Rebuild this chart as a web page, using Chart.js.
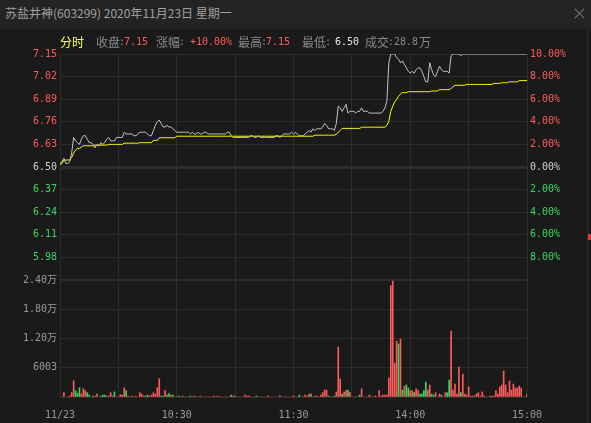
<!DOCTYPE html>
<html lang="zh-CN">
<head>
<meta charset="UTF-8">
<title>苏盐井神 分时</title>
<script src="https://cdn.jsdelivr.net/npm/chart.js@4/dist/chart.umd.min.js"></script>
<style>
  body { margin: 0; background: #1a1a1a; width: 591px; height: 423px; overflow: hidden; position: relative; }
  #titlebar { position: absolute; left: 0; top: 0; width: 591px; height: 29px; background: #232323;
    color: #a0a0a0; font: 12px "Noto Sans CJK SC", sans-serif; line-height: 26px; }
  #titlebar span { position: absolute; left: 5px; top: 0; }
  .close { position: absolute; left: 574px; top: 8px; width: 11px; height: 11px; }
  .close:before, .close:after { content: ""; position: absolute; left: 5px; top: -1px; width: 1px; height: 13px; background: #7a7a7a; }
  .close:before { transform: rotate(45deg); }
  .close:after { transform: rotate(-45deg); }
  .hd { position: absolute; top: 34px; height: 16px; line-height: 16px; white-space: nowrap; z-index: 2; }
  .cj { font-family: "Noto Sans CJK SC", sans-serif; font-size: 12px; color: #8a8a8a; }
  .mn { font-family: "DejaVu Sans Mono", monospace; font-size: 10px; color: #8a8a8a; }
  .red { color: #ff5a5a; }
  .wht { color: #e6e6e6; }
  .yel { color: #ffff66; }
  canvas { position: absolute; left: 0; }
  #price { top: 44px; }
  #vol { top: 270px; }
  .edge { position: absolute; left: 587px; top: 29px; width: 1px; height: 394px; background: #2c2c2c; }
  .mark { position: absolute; left: 588px; top: 234px; width: 3px; height: 6px; background: #e03535; }
</style>
</head>
<body>
<div id="titlebar"><span>苏盐井神(603299) 2020年11月23日 星期一</span><div class="close"></div></div>
<div class="hd cj yel" style="left:60px">分时</div>
<div class="hd cj" style="left:96px">收盘</div><div class="hd mn" style="left:119px">:</div><div class="hd mn red" style="left:124px">7.15</div>
<div class="hd cj" style="left:156px">涨幅</div><div class="hd mn" style="left:179px">:</div><div class="hd mn red" style="left:190px">+10.00%</div>
<div class="hd cj" style="left:238px">最高</div><div class="hd mn" style="left:261px">:</div><div class="hd mn red" style="left:266px">7.15</div>
<div class="hd cj" style="left:302px">最低</div><div class="hd mn" style="left:325px">:</div><div class="hd mn wht" style="left:335px">6.50</div>
<div class="hd cj" style="left:365px">成交</div><div class="hd mn" style="left:388px">:28.8</div><div class="hd cj" style="left:419px">万</div>
<div class="edge"></div>
<div class="mark"></div>
<canvas id="price" width="591" height="246"></canvas>
<canvas id="vol" width="591" height="153"></canvas>
<script>
// minute index 0..240 (9:30-11:30, 13:00-15:00)
const minutes = Array.from({ length: 241 }, (_, i) => i);

const price = [
  6.52, 6.53, 6.55, 6.52, 6.52, 6.53, 6.58, 6.67, 6.65, 6.64,
  6.63, 6.66, 6.68, 6.68, 6.66, 6.64, 6.64, 6.63, 6.61, 6.63,
  6.62, 6.64, 6.63, 6.64, 6.66, 6.67, 6.65, 6.65, 6.65, 6.67,
  6.67, 6.67, 6.67, 6.70, 6.69, 6.69, 6.69, 6.69, 6.68, 6.68,
  6.69, 6.70, 6.70, 6.70, 6.70, 6.69, 6.68, 6.68, 6.71, 6.74,
  6.76, 6.77, 6.75, 6.73, 6.73, 6.74, 6.73, 6.73, 6.72, 6.71,
  6.70, 6.70, 6.70, 6.70, 6.70, 6.70, 6.70, 6.69, 6.70, 6.69,
  6.69, 6.70, 6.69, 6.69, 6.70, 6.70, 6.69, 6.69, 6.69, 6.69,
  6.69, 6.69, 6.69, 6.69, 6.69, 6.69, 6.70, 6.70, 6.68, 6.67,
  6.67, 6.67, 6.67, 6.67, 6.67, 6.67, 6.67, 6.67, 6.68, 6.68,
  6.67, 6.67, 6.68, 6.67, 6.67, 6.67, 6.67, 6.67, 6.67, 6.67,
  6.67, 6.68, 6.68, 6.67, 6.68, 6.69, 6.69, 6.69, 6.69, 6.70,
  6.69, 6.70, 6.69, 6.68, 6.68, 6.68, 6.69, 6.70, 6.71, 6.70,
  6.72, 6.71, 6.72, 6.72, 6.72, 6.73, 6.75, 6.74, 6.72, 6.72,
  6.72, 6.71, 6.75, 6.85, 6.84, 6.82, 6.84, 6.86, 6.81, 6.82,
  6.82, 6.82, 6.81, 6.82, 6.82, 6.84, 6.82, 6.82, 6.82, 6.81,
  6.81, 6.81, 6.81, 6.81, 6.81, 6.81, 6.82, 6.84, 6.88, 7.10,
  7.15, 7.15, 7.15, 7.13, 7.12, 7.10, 7.11, 7.09, 7.07, 7.05,
  7.04, 7.05, 7.04, 7.06, 7.07, 7.07, 7.05, 7.02, 6.99, 6.99,
  7.10, 7.06, 7.03, 7.02, 7.05, 7.08, 7.06, 7.05, 7.05, 7.05,
  7.04, 7.14, 7.15, 7.15, 7.15, 7.15, 7.14, 7.15, 7.15, 7.15,
  7.15, 7.15, 7.15, 7.15, 7.15, 7.15, 7.15, 7.15, 7.15, 7.15,
  7.15, 7.15, 7.15, 7.15, 7.15, 7.15, 7.15, 7.15, 7.15, 7.15,
  7.15, 7.15, 7.15, 7.15, 7.15, 7.15, 7.15, 7.15, 7.15, 7.15,
  7.15
];

const avgPrice = [
  6.515, 6.52, 6.54, 6.54, 6.54, 6.54, 6.555, 6.58, 6.597, 6.607,
  6.607, 6.615, 6.622, 6.622, 6.622, 6.622, 6.622, 6.622, 6.626, 6.626,
  6.626, 6.626, 6.626, 6.626, 6.626, 6.63, 6.63, 6.63, 6.63, 6.63,
  6.63, 6.63, 6.63, 6.637, 6.637, 6.637, 6.637, 6.637, 6.637, 6.637,
  6.637, 6.64, 6.64, 6.64, 6.64, 6.64, 6.64, 6.64, 6.653, 6.653,
  6.653, 6.668, 6.668, 6.668, 6.668, 6.668, 6.668, 6.668, 6.668, 6.668,
  6.677, 6.677, 6.677, 6.677, 6.677, 6.677, 6.677, 6.677, 6.677, 6.677,
  6.677, 6.677, 6.677, 6.677, 6.677, 6.677, 6.677, 6.677, 6.677, 6.677,
  6.677, 6.677, 6.677, 6.677, 6.677, 6.677, 6.677, 6.677, 6.677, 6.677,
  6.677, 6.677, 6.677, 6.677, 6.677, 6.677, 6.677, 6.677, 6.677, 6.677,
  6.677, 6.677, 6.677, 6.677, 6.677, 6.677, 6.677, 6.677, 6.677, 6.677,
  6.677, 6.677, 6.677, 6.677, 6.677, 6.677, 6.677, 6.677, 6.677, 6.677,
  6.677, 6.677, 6.677, 6.677, 6.677, 6.677, 6.677, 6.677, 6.677, 6.677,
  6.677, 6.683, 6.683, 6.683, 6.683, 6.683, 6.683, 6.683, 6.683, 6.683,
  6.683, 6.683, 6.687, 6.70, 6.71, 6.722, 6.722, 6.722, 6.722, 6.722,
  6.722, 6.722, 6.722, 6.722, 6.722, 6.729, 6.729, 6.729, 6.729, 6.729,
  6.729, 6.729, 6.729, 6.729, 6.729, 6.729, 6.729, 6.729, 6.74, 6.763,
  6.82, 6.85, 6.874, 6.888, 6.907, 6.92, 6.928, 6.928, 6.928, 6.933,
  6.933, 6.933, 6.933, 6.933, 6.933, 6.933, 6.933, 6.933, 6.933, 6.933,
  6.933, 6.937, 6.937, 6.937, 6.937, 6.945, 6.945, 6.945, 6.945, 6.945,
  6.945, 6.952, 6.962, 6.97, 6.97, 6.97, 6.97, 6.97, 6.97, 6.975,
  6.975, 6.975, 6.975, 6.975, 6.975, 6.975, 6.975, 6.975, 6.975, 6.975,
  6.975, 6.975, 6.975, 6.981, 6.981, 6.981, 6.981, 6.985, 6.985, 6.985,
  6.985, 6.99, 6.99, 6.99, 6.99, 6.99, 6.997, 6.997, 6.997, 6.997,
  6.997
];

const volume = [
  0, 0, 890, 0, 0, 200, 890, 3350, 1300, 750,
  1900, 600, 1700, 1300, 890, 400, 0, 200, 200, 600,
  0, 200, 400, 400, 200, 200, 890, 200, 1030, 0,
  0, 480, 400, 1900, 1300, 200, 0, 200, 0, 200,
  0, 890, 600, 200, 200, 400, 200, 400, 890, 600,
  1900, 3760, 200, 200, 1300, 400, 680, 400, 400, 0,
  0, 200, 0, 200, 0, 0, 0, 200, 0, 200,
  0, 0, 200, 0, 0, 0, 0, 0, 0, 200,
  0, 200, 0, 0, 0, 0, 0, 0, 400, 200,
  200, 0, 0, 0, 0, 400, 200, 200, 0, 0,
  0, 200, 0, 0, 0, 0, 0, 200, 0, 0,
  0, 0, 0, 300, 0, 0, 0, 0, 0, 0,
  200, 0, 0, 400, 0, 0, 400, 200, 600, 600,
  0, 200, 200, 0, 400, 890, 1430, 1430, 200, 0,
  0, 200, 1030, 10250, 3690, 600, 1030, 1300, 1430, 890,
  0, 0, 0, 0, 400, 1700, 0, 0, 0, 400,
  0, 0, 200, 0, 1300, 200, 400, 400, 400, 3900,
  22820, 23780, 6970, 11480, 10870, 11890, 1430, 2250, 2460, 1850,
  1300, 1300, 890, 1700, 1300, 600, 600, 1300, 3080, 1430,
  2460, 600, 400, 890, 0, 600, 400, 0, 890, 890,
  3480, 13530, 1430, 2660, 600, 6150, 890, 4710, 600, 400,
  2050, 200, 200, 200, 600, 890, 200, 1030, 200, 0,
  0, 200, 200, 200, 1300, 600, 2050, 2460, 5330, 2460,
  890, 3280, 1430, 2660, 1850, 1850, 2250, 1850, 0, 0,
  600
];

// minutes whose volume bar is green (price fell)
const downMinutes = [8, 9, 10, 14, 15, 17, 21, 22, 23, 28, 34, 44, 45, 52, 53, 55, 56, 58, 61, 67,
  88, 101, 123, 129, 138, 141, 145, 148, 154, 174, 176, 178, 179, 182, 185, 186, 187, 188,
  191, 192, 196, 199, 200, 206];

const prevClose = 6.50;
const priceTicks = [5.85, 5.98, 6.11, 6.24, 6.37, 6.50, 6.63, 6.76, 6.89, 7.02, 7.15];
const pctTicks = [-10, -8, -6, -4, -2, 0, 2, 4, 6, 8, 10];
const volTicks = [0, 6003, 12006, 18009, 24012];
const gridMinutes = [0, 30, 60, 90, 120, 150, 180, 210, 240];
const timeLabels = { 0: '11/23', 60: '10:30', 120: '11:30', 180: '14:00', 240: '15:00' };

const RED = '#ff5a5a';
const GREEN = '#3ad65e';
const GRID = '#2c2c2c';
const LABEL = '#9a9a9a';
const tickFont = { family: 'DejaVu Sans Mono', size: 10 };

Chart.defaults.font.family = 'DejaVu Sans Mono';

const common = {
  responsive: false,
  animation: false,
  events: [],
  plugins: { legend: { display: false }, tooltip: { enabled: false } }
};

new Chart(document.getElementById('price'), {
  type: 'line',
  data: {
    datasets: [
      {
        data: minutes.map((m, i) => ({ x: m, y: price[i] })),
        borderColor: '#c4c4c4', borderWidth: 1, pointRadius: 0, yAxisID: 'y'
      },
      {
        data: minutes.map((m, i) => ({ x: m, y: avgPrice[i] })),
        borderColor: '#ffff00', borderWidth: 1, pointRadius: 0, yAxisID: 'y'
      }
    ]
  },
  options: {
    ...common,
    layout: { padding: { top: 10, bottom: 10 } },
    scales: {
      x: {
        type: 'linear', min: 0, max: 240,
        afterBuildTicks: s => { s.ticks = gridMinutes.map(v => ({ value: v })); },
        ticks: { display: false },
        grid: { color: GRID, drawTicks: false },
        border: { display: false },
        afterFit: s => { s.height = 0; }
      },
      y: {
        position: 'left', min: 5.85, max: 7.15,
        afterBuildTicks: s => { s.ticks = priceTicks.map(v => ({ value: v })); },
        ticks: {
          font: tickFont, padding: 3,
          color: ctx => ctx.tick.value > prevClose ? RED : (ctx.tick.value === prevClose ? '#d0d0d0' : GREEN),
          callback: v => v === 5.85 ? '' : v.toFixed(2)
        },
        grid: {
          color: GRID, drawTicks: false,
          lineWidth: ctx => ctx.tick && ctx.tick.value === prevClose ? 3 : (ctx.tick && ctx.tick.value === 5.85 ? 2 : 1)
        },
        border: { display: false },
        afterFit: s => { s.width = 60; }
      },
      pct: {
        position: 'right', min: -10, max: 10,
        afterBuildTicks: s => { s.ticks = pctTicks.map(v => ({ value: v })); },
        ticks: {
          font: tickFont, padding: 3,
          color: ctx => ctx.tick.value > 0 ? RED : (ctx.tick.value === 0 ? '#d0d0d0' : GREEN),
          callback: v => v === -10 ? '' : Math.abs(v).toFixed(2) + '%'
        },
        grid: { display: false, drawTicks: false },
        border: { display: false },
        afterFit: s => { s.width = 64; }
      }
    }
  }
});

new Chart(document.getElementById('vol'), {
  type: 'bar',
  data: {
    datasets: [{
      data: minutes.map((m, i) => ({ x: m, y: volume[i] })),
      backgroundColor: minutes.map(m => downMinutes.includes(m) ? GREEN : RED),
      barThickness: 1
    }]
  },
  options: {
    ...common,
    layout: { padding: { top: 10, right: 64 } },
    scales: {
      x: {
        type: 'linear', min: 0, max: 240, offset: false,
        afterBuildTicks: s => { s.ticks = gridMinutes.map(v => ({ value: v })); },
        ticks: {
          font: tickFont, color: LABEL, padding: 12, maxRotation: 0, autoSkip: false,
          callback: v => timeLabels[v] || ''
        },
        grid: { color: GRID, drawTicks: false, offset: false },
        border: { display: false },
        afterFit: s => { s.height = 26; }
      },
      y: {
        position: 'left', min: 0, max: 24012,
        afterBuildTicks: s => { s.ticks = volTicks.map(v => ({ value: v })); },
        ticks: {
          font: tickFont, color: LABEL, padding: 3,
          callback: v => v === 0 ? '' : (v < 10000 ? String(v) : (v / 10000).toFixed(2) + '万')
        },
        grid: {
          color: GRID, drawTicks: false,
          lineWidth: ctx => ctx.tick && ctx.tick.value === 24012 ? 2 : 1
        },
        border: { display: false },
        afterFit: s => { s.width = 60; }
      }
    }
  }
});
</script>
</body>
</html>
